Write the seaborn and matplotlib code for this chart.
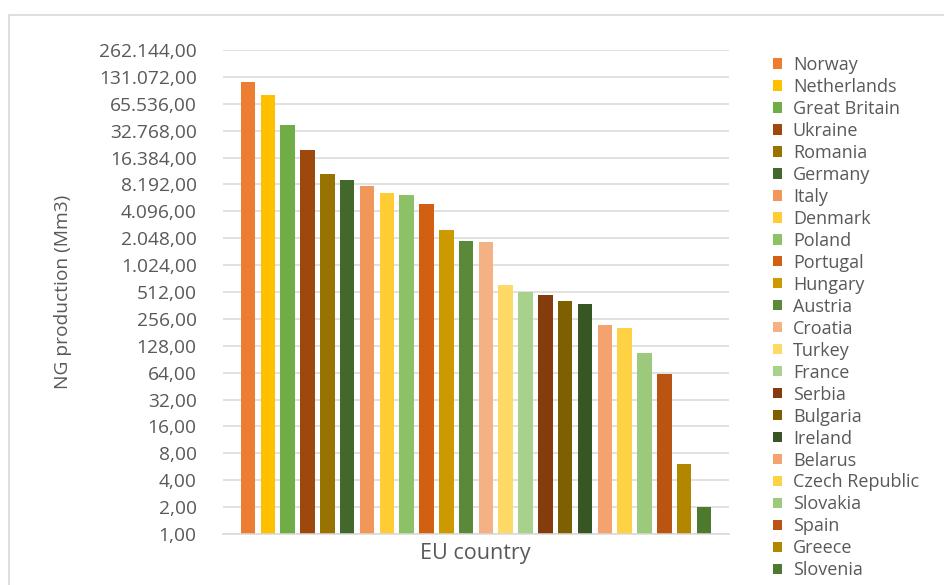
import matplotlib
matplotlib.use("Agg")
import matplotlib.pyplot as plt
from matplotlib.patches import Rectangle, Patch
from matplotlib.ticker import FixedLocator, FuncFormatter
import seaborn as sns
import pandas as pd

# Natural gas production per country (Mm3)
countries = [
    "Norway", "Netherlands", "Great Britain", "Ukraine", "Romania", "Germany",
    "Italy", "Denmark", "Poland", "Portugal", "Hungary", "Austria",
    "Croatia", "Turkey", "France", "Serbia", "Bulgaria", "Ireland",
    "Belarus", "Czech Republic", "Slovakia", "Spain", "Greece", "Slovenia",
]
production = [
    114000, 82000, 38000, 20100, 10800, 9150,
    7970, 6500, 6170, 4940, 2500, 1920,
    1850, 613, 508, 478, 407, 373,
    218, 202, 105, 62, 6.0, 2.0,
]
colors = [
    "#ED7D31", "#FFC000", "#70AD47", "#9E480E", "#997300", "#43682B",
    "#F1975A", "#FFCD33", "#8CC168", "#D26012", "#CC9A00", "#5A8A39",
    "#F4B183", "#FFD966", "#A9D18E", "#843C0C", "#7F6000", "#375623",
    "#F4A26E", "#FFD245", "#9DC97D", "#BA5412", "#B38600", "#4E7A30",
]
group_label = "EU country"
y_ticks = [2 ** k for k in range(0, 19)]

df = pd.DataFrame({
    "group": [group_label] * len(countries),
    "country": countries,
    "value": production,
})

sns.set_theme(style="white")
font = ["Open Sans", "DejaVu Sans"]
plt.rcParams["font.family"] = font
text_gray = "#595959"
grid_gray = "#D9D9D9"

fig = plt.figure(figsize=(9.44, 5.85), dpi=100)
ax = fig.add_axes([223 / 944, 1 - 534 / 585, 506 / 944, (534 - 50) / 585])

sns.barplot(
    data=df, x="group", y="value", hue="country",
    hue_order=countries, palette=colors, width=0.94, gap=0.27,
    saturation=1, legend=False, ax=ax, errorbar=None,
    edgecolor="none",
)

ax.set_yscale("log", base=2)
ax.set_ylim(1, 262144)
ax.set_xlim(-0.5, 0.5)
ax.yaxis.set_major_locator(FixedLocator(y_ticks))
ax.yaxis.set_minor_locator(FixedLocator([]))


def euro_fmt(v, pos):
    s = f"{v:,.2f}"
    return s.replace(",", "X").replace(".", ",").replace("X", ".")


ax.yaxis.set_major_formatter(FuncFormatter(euro_fmt))
ax.grid(axis="y", color=grid_gray, linewidth=1.1)
ax.set_axisbelow(True)
for side in ["top", "right", "left"]:
    ax.spines[side].set_visible(False)
ax.spines["bottom"].set_color(grid_gray)
ax.spines["bottom"].set_linewidth(1.1)
ax.tick_params(axis="y", length=0, pad=19, labelsize=13.8, labelcolor=text_gray)
ax.tick_params(axis="x", length=0, labelbottom=False)
ax.set_xlabel("")
ax.set_ylabel("")

fig.text(475 / 944, 1 - 553 / 585, group_label, ha="center", va="center",
         fontsize=15.5, color=text_gray)
fig.text(63 / 944, 1 - 292 / 585, "NG production (Mm3)", ha="center",
         va="center", rotation=90, fontsize=13.8, color=text_gray)

handles = [Patch(facecolor=c, edgecolor="none") for c in colors]
leg = fig.legend(
    handles, countries, loc="upper left",
    bbox_to_anchor=(773 / 944, 1 - 56 / 585),
    frameon=False, fontsize=13, handlelength=0.5, handleheight=0.5,
    handletextpad=0.6, labelspacing=0.22, borderpad=0, borderaxespad=0,
)
for t in leg.get_texts():
    t.set_color(text_gray)

# light outer frame of the chart area
fig.patches.append(Rectangle((9 / 944, -0.05), 1.1, 1 - 15 / 585 + 0.05,
                             transform=fig.transFigure, fill=False,
                             edgecolor=grid_gray, linewidth=1.2))

fig.savefig("out.png", dpi=100)
